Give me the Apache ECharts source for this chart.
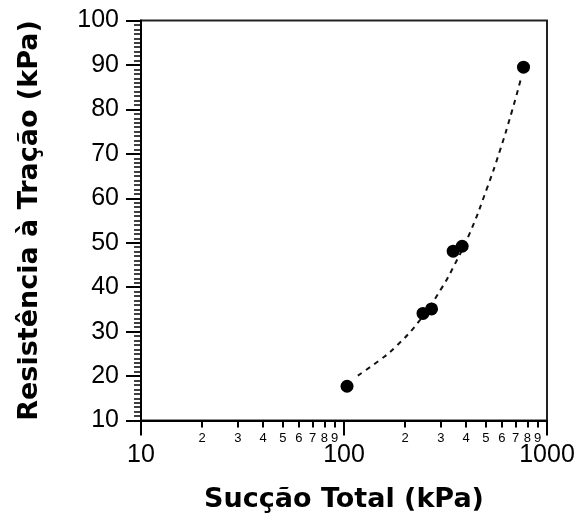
<!DOCTYPE html>
<html>
<head>
<meta charset="utf-8">
<script src="https://cdn.jsdelivr.net/npm/echarts@6/dist/echarts.min.js"></script>
<style>
  html, body { margin: 0; padding: 0; background: #fff; }
  #chart { width: 575px; height: 517px; }
</style>
</head>
<body>
<div id="chart"></div>
<script>
// Measured points: total suction (kPa) vs tensile strength (kPa)
const suction = [103.5, 245, 270, 345, 382, 766];
const tensile = [17.7, 34.1, 35.1, 48.1, 49.2, 89.5];

// Trend curve (dashed), sampled along the fitted line
const trendSuction = [117, 150, 177, 235, 300, 350, 416, 505, 585, 671, 743];
const trendTensile = [20.1, 23.6, 26.3, 32.4, 39.5, 45.0, 52.1, 62.1, 70.6, 79.5, 86.8];

// Minor labels of the log axis (2..9 within each decade)
const minorLabels = [2, 3, 4, 5, 6, 7, 8, 9];
const decades = [10, 100];

const yTicks = { min: 10, max: 100, interval: 10 };

const minorPositions = [];
decades.forEach(d => minorLabels.forEach(m => minorPositions.push(Math.log10(d * m))));

const chart = echarts.init(document.getElementById('chart'), null, { renderer: 'canvas' });

const font = 'Liberation Sans';
const titleFont = 'DejaVu Sans';

chart.setOption({
  animation: false,
  backgroundColor: '#fff',
  textStyle: { fontFamily: font },
  grid: {
    left: 141, right: 28, top: 20.5, bottom: 96.5,
    outerBoundsMode: 'none', containLabel: false,
    show: true, borderColor: '#222', borderWidth: 2, backgroundColor: 'transparent'
  },
  xAxis: [
    {
      type: 'log', logBase: 10, min: 10, max: 1000,
      name: 'Sucção Total (kPa)', nameLocation: 'middle', nameGap: 66,
      nameTextStyle: { fontFamily: titleFont, fontWeight: 'bold', fontSize: 27, color: '#000' },
      axisLine: { show: true, onZero: false, lineStyle: { color: '#000', width: 2 } },
      axisTick: { show: true, length: 15, lineStyle: { color: '#000', width: 2 } },
      axisLabel: { fontFamily: font, fontSize: 25, color: '#000', margin: 22, formatter: v => String(v) },
      splitLine: { show: false }
    },
    {
      type: 'value', min: 1, max: 3, position: 'bottom',
      axisLine: { show: false },
      axisTick: { show: true, length: 7, customValues: minorPositions, lineStyle: { color: '#000', width: 2 } },
      axisLabel: {
        show: true, customValues: minorPositions, fontFamily: font, fontSize: 13, color: '#000', margin: 11,
        hideOverlap: false,
        formatter: v => String(Math.round(Math.pow(10, v - Math.floor(v + 1e-9))))
      },
      splitLine: { show: false }
    }
  ],
  yAxis: {
    type: 'value', min: yTicks.min, max: yTicks.max, interval: yTicks.interval,
    name: 'Resistência à Tração (kPa)', nameLocation: 'middle', nameGap: 98,
    nameTextStyle: { fontFamily: titleFont, fontWeight: 'bold', fontSize: 27, color: '#000' },
    axisLine: { show: true, onZero: false, lineStyle: { color: '#000', width: 2 } },
    axisTick: { show: true, length: 15, lineStyle: { color: '#000', width: 2 } },
    minorTick: { show: true, splitNumber: 10, length: 7, lineStyle: { color: '#000', width: 1.5 } },
    axisLabel: { fontFamily: font, fontSize: 25, color: '#000', margin: 22 },
    splitLine: { show: false },
    minorSplitLine: { show: false }
  },
  series: [
    {
      type: 'line', xAxisIndex: 0,
      data: trendSuction.map((x, i) => [x, trendTensile[i]]),
      smooth: true, showSymbol: false, symbol: 'none',
      lineStyle: { color: '#111', width: 2, type: [5, 5] },
      z: 2
    },
    {
      type: 'scatter', xAxisIndex: 0,
      data: suction.map((x, i) => [x, tensile[i]]),
      symbol: 'circle', symbolSize: 13,
      itemStyle: { color: '#000', opacity: 1 },
      z: 3
    }
  ]
});
</script>
</body>
</html>
